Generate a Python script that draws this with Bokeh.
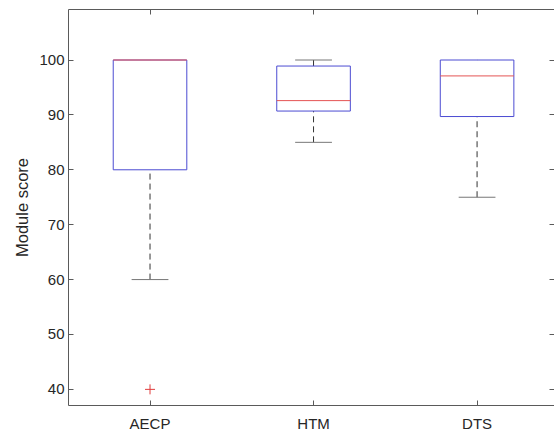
from bokeh.plotting import figure
from bokeh.models import ColumnDataSource, FixedTicker, LinearAxis, Range1d
from bokeh.embed import file_html
from bokeh.resources import INLINE

# ---- data ----
categories = ["AECP", "HTM", "DTS"]
positions = [1, 2, 3]
q1 = [80.0, 90.7, 89.7]
medians = [100.0, 92.6, 97.1]
q3 = [100.0, 98.9, 100.0]
lower_whisker = [60.0, 85.0, 75.0]
upper_whisker = [100.0, 100.0, 100.0]
outlier_pos = [1]
outlier_val = [40.0]
y_ticks = [40, 50, 60, 70, 80, 90, 100]

box_w = 0.45
cap_w = box_w / 2

FONT = "Liberation Sans"
AX = "#5a5a5a"
TXT = "#262626"

src = ColumnDataSource(dict(
    x=positions,
    xl=[p - box_w / 2 for p in positions],
    xr=[p + box_w / 2 for p in positions],
    cl=[p - cap_w / 2 for p in positions],
    cr=[p + cap_w / 2 for p in positions],
    q1=q1, med=medians, q3=q3, lo=lower_whisker, hi=upper_whisker,
))

# upper caps that are not hidden behind the box top
vis = [i for i in range(len(positions)) if upper_whisker[i] > q3[i]]
upcap = ColumnDataSource(dict(
    cl=[positions[i] - cap_w / 2 for i in vis],
    cr=[positions[i] + cap_w / 2 for i in vis],
    hi=[upper_whisker[i] for i in vis],
))

p = figure(width=554, height=434, output_backend="svg", toolbar_location=None,
           x_range=Range1d(0.5015, 3.4735), y_range=Range1d(37.06, 109.2),
           min_border_left=68, min_border_right=0, min_border_top=9,
           min_border_bottom=29)
p.outline_line_color = None
p.grid.visible = False
p.background_fill_color = "white"
p.border_fill_color = "white"

# whiskers (dashed)
p.segment(x0="x", x1="x", y0="q3", y1="hi", source=src, line_color="#333333",
          line_dash="6 4", line_width=1)
p.segment(x0="x", x1="x", y0="lo", y1="q1", source=src, line_color="#333333",
          line_dash="6 4", line_width=1)
# caps
p.segment(x0="cl", x1="cr", y0="hi", y1="hi", source=upcap, line_color="#777777",
          line_width=1)
p.segment(x0="cl", x1="cr", y0="lo", y1="lo", source=src, line_color="#777777",
          line_width=1)
# boxes
p.quad(left="xl", right="xr", bottom="q1", top="q3", source=src,
       fill_color=None, line_color="#4b4bd2", line_width=1)
# medians
p.segment(x0="xl", x1="xr", y0="med", y1="med", source=src, line_color="#e55353",
          line_width=1)
# outliers
p.scatter(x=outlier_pos, y=outlier_val, marker="cross", size=10,
          line_color="#e03c3c", line_width=1)

def style(ax):
    ax.axis_line_color = AX
    ax.axis_line_width = 1
    ax.major_tick_line_color = AX
    ax.major_tick_in = 5
    ax.major_tick_out = 0
    ax.minor_tick_line_color = None
    ax.major_label_text_font = FONT
    ax.major_label_text_font_size = "15px"
    ax.major_label_text_color = TXT
    ax.axis_label_text_font = FONT
    ax.axis_label_text_font_style = "normal"
    ax.axis_label_text_color = TXT

# left
ya = p.yaxis[0]
style(ya)
ya.ticker = FixedTicker(ticks=y_ticks)
ya.major_label_standoff = 4
ya.axis_label = "Module score"
ya.axis_label_text_font_size = "16.5px"
ya.axis_label_standoff = 5

# bottom
xa = p.xaxis[0]
style(xa)
xa.ticker = FixedTicker(ticks=positions)
xa.major_label_overrides = {pos: c for pos, c in zip(positions, categories)}
xa.major_label_standoff = 9

# top (ticks only)
ta = LinearAxis(ticker=FixedTicker(ticks=positions))
style(ta)
ta.major_label_overrides = {pos: "" for pos in positions}
ta.major_label_standoff = 0
ta.major_label_text_font_size = "0px"
p.add_layout(ta, "above")

# right (ticks only)
ra = LinearAxis(ticker=FixedTicker(ticks=y_ticks))
style(ra)
ra.axis_line_color = None
ra.major_label_overrides = {t: "" for t in y_ticks}
ra.major_label_standoff = 0
ra.major_label_text_font_size = "0px"
p.add_layout(ra, "right")

open("out.html", "w").write(file_html(p, INLINE))
